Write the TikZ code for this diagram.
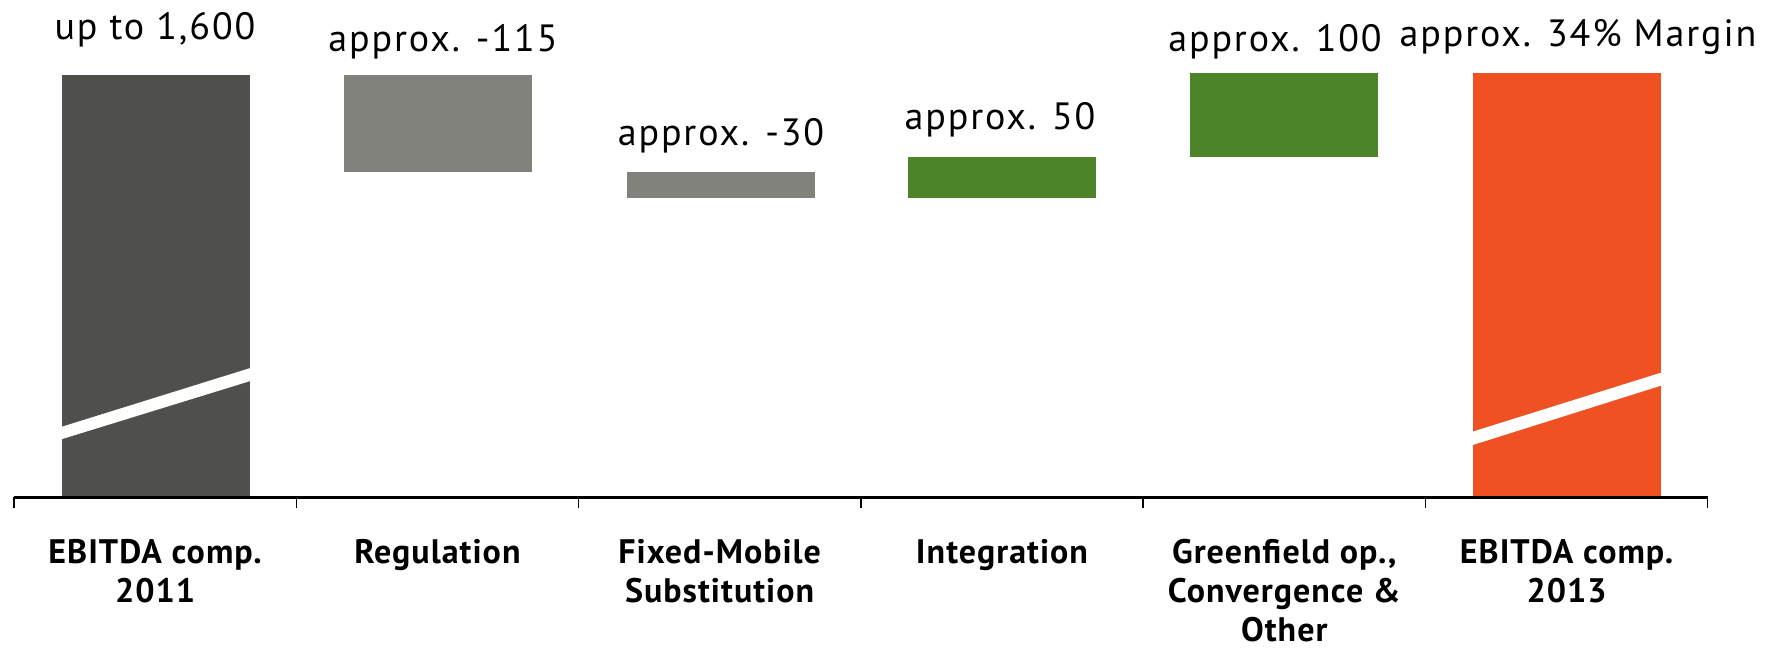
\documentclass[tikz,border=0pt]{standalone}
\usepackage{fontspec}
\setmainfont{PT Sans}

\definecolor{darkbar}{RGB}{79,80,75}
\definecolor{greybar}{RGB}{128,130,123}
\definecolor{greenbar}{RGB}{78,132,41}
\definecolor{orangebar}{RGB}{239,81,35}

\begin{document}
\begin{tikzpicture}[x=1pt, y=1pt,
		value/.style={anchor=base, inner sep=0pt, font=\fontsize{38}{44}\selectfont\addfontfeatures{LetterSpace=5}},
		category/.style={anchor=north, inner sep=0pt, align=center, font=\fontsize{34}{39}\selectfont\bfseries\addfontfeatures{LetterSpace=3}}]
		\useasboundingbox (0,0) rectangle (1781,648);

		% Define the bars
		\fill[darkbar] (62,150.7) rectangle (250,573);
		\fill[greybar] (344,475.5) rectangle (532,573);
		\fill[greybar] (626.5,449.5) rectangle (814.5,475.7);
		\fill[greenbar] (908,449.5) rectangle (1096,491.3);
		\fill[greenbar] (1190,491.3) rectangle (1378,575.3);
		\fill[orangebar] (1472.5,150.7) rectangle (1660.5,575.3);

		% Axis breaks on the two totals
		\fill[white] (61,221) -- (251,280.2) -- (251,267.2) -- (61,208.6) -- cycle;
		\fill[white] (1471.5,216) -- (1661.5,275.5) -- (1661.5,262.5) -- (1471.5,202.6) -- cycle;

		% Define the axis
		\draw[line width=2.7pt] (14,150.7) -- (1707.7,150.7);
		\foreach \i in {0,...,6}
			\draw[line width=1.5pt] (14+282.28*\i,150.7) -- ++(0,-11);

		% Values
		\node[value] (v2011) at (155,608) {up to 1,600};
		\node[value] (vreg) at (443,596) {approx. -115};
		\node[value] (vfms) at (721,502.5) {approx. -30};
		\node[value] (vint) at (1000,518.5) {approx. 50};
		\node[value] (vgreen) at (1275,596) {approx. 100};
		\node[value] (v2013) at (1578,601) {approx. 34\% Margin};

		% Categories
		\node[category] (c2011) at (155.1,109) {EBITDA comp.\\2011};
		\node[category] (creg) at (437.4,109) {Regulation};
		\node[category] (cfms) at (719.7,109) {Fixed-Mobile\\Substitution};
		\node[category] (cint) at (1002,109) {Integration};
		\node[category] (cgreen) at (1284.3,109) {Greenfield op.,\\Convergence \&\\Other};
		\node[category] (c2013) at (1566.6,109) {EBITDA comp.\\2013};
	\end{tikzpicture}
\end{document}
